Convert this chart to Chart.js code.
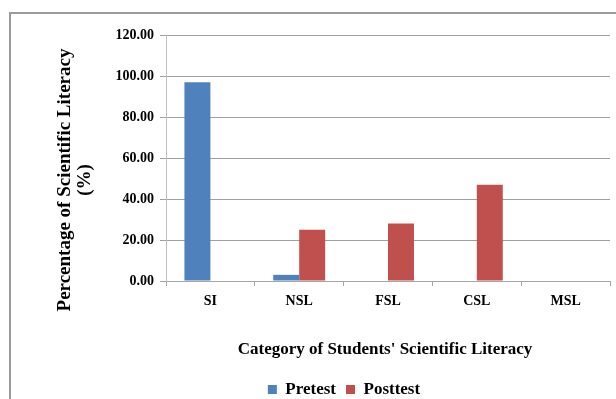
<!DOCTYPE html>
<html>
<head>
<meta charset="utf-8">
<script src="https://cdn.jsdelivr.net/npm/chart.js@4.4.1/dist/chart.umd.min.js"></script>
<style>
  html, body { margin: 0; padding: 0; background: #fff; }
  #wrap { width: 616px; height: 399px; }
</style>
</head>
<body>
<div id="wrap"><canvas id="mygraph"></canvas></div>
<script>
const categories = ["SI", "NSL", "FSL", "CSL", "MSL"];
const pretest = [97, 3, 0, 0, 0];
const posttest = [0, 25, 28, 47, 0];
const yTicks = [0, 20, 40, 60, 80, 100, 120];
const yTitle = ["Percentage of Scientific Literacy", "(%)"];
const xTitle = "Category of Students' Scientific Literacy";

const serif = "'Liberation Serif', 'Times New Roman', serif";

// border, axis titles and legend placement
const extras = {
  id: 'extras',
  afterLayout(chart) {
    const lg = chart.legend;
    if (!lg) return;
    lg.left += 39; lg.right += 39;
    lg.top += 9; lg.bottom += 9;
  },
  beforeDraw(chart) {
    const ctx = chart.ctx;
    ctx.save();
    ctx.fillStyle = '#fff';
    ctx.fillRect(0, 0, chart.width, chart.height);
    ctx.strokeStyle = '#9a9a9a';
    ctx.lineWidth = 2;
    ctx.strokeRect(10, 13, chart.width + 20, chart.height + 20);
    ctx.restore();
  },
  afterDraw(chart) {
    const ctx = chart.ctx;
    ctx.save();
    ctx.fillStyle = '#000';
    ctx.font = "bold 17px " + serif;
    ctx.textAlign = 'center';
    ctx.textBaseline = 'middle';
    ctx.fillText(xTitle, 385, 350);
    ctx.font = "bold 19px " + serif;
    ctx.translate(0, 180);
    ctx.rotate(-Math.PI / 2);
    ctx.fillText(yTitle[0], 0, 65);
    ctx.fillText(yTitle[1], 0, 85);
    ctx.restore();
  }
};

const data = {
  labels: categories,
  datasets: [
    { label: "Pretest", data: pretest, backgroundColor: '#4F81BD' },
    { label: "Posttest", data: posttest, backgroundColor: '#C0504D' }
  ]
};

const config = {
  type: 'bar',
  data,
  options: {
    responsive: true,
    maintainAspectRatio: false,
    animation: false,
    devicePixelRatio: 1,
    layout: { padding: { top: 35, right: 6, left: 0, bottom: 0 } },
    datasets: { bar: { barPercentage: 1, categoryPercentage: 0.585 } },
    scales: {
      x: {
        afterFit(s) { s.height = 118 - (s.chart.legend ? s.chart.legend.height : 0); },
        ticks: { color: '#000', font: { family: serif, size: 14, weight: 'bold' }, padding: 7 },
        grid: { drawOnChartArea: false, tickLength: 5, color: '#a6a6a6' },
        border: { color: '#a6a6a6' }
      },
      y: {
        min: 0, max: 120,
        afterFit(s) { s.width = 166; },
        afterBuildTicks(s) { s.ticks = yTicks.map(v => ({ value: v })); },
        ticks: {
          color: '#000', padding: 6,
          font: { family: serif, size: 14, weight: 'bold' },
          callback: v => Number(v).toFixed(2)
        },
        grid: { color: '#a0a0a0', tickLength: 6 },
        border: { color: '#c0c0c0' }
      }
    },
    plugins: {
      legend: {
        position: 'bottom',
        labels: {
          boxWidth: 9, boxHeight: 9, padding: 10, color: '#000',
          font: { family: serif, size: 17, weight: 'bold' }
        }
      },
      tooltip: { enabled: false }
    }
  },
  plugins: [extras]
};

const mygraph = new Chart(document.getElementById('mygraph'), config);
</script>
</body>
</html>
